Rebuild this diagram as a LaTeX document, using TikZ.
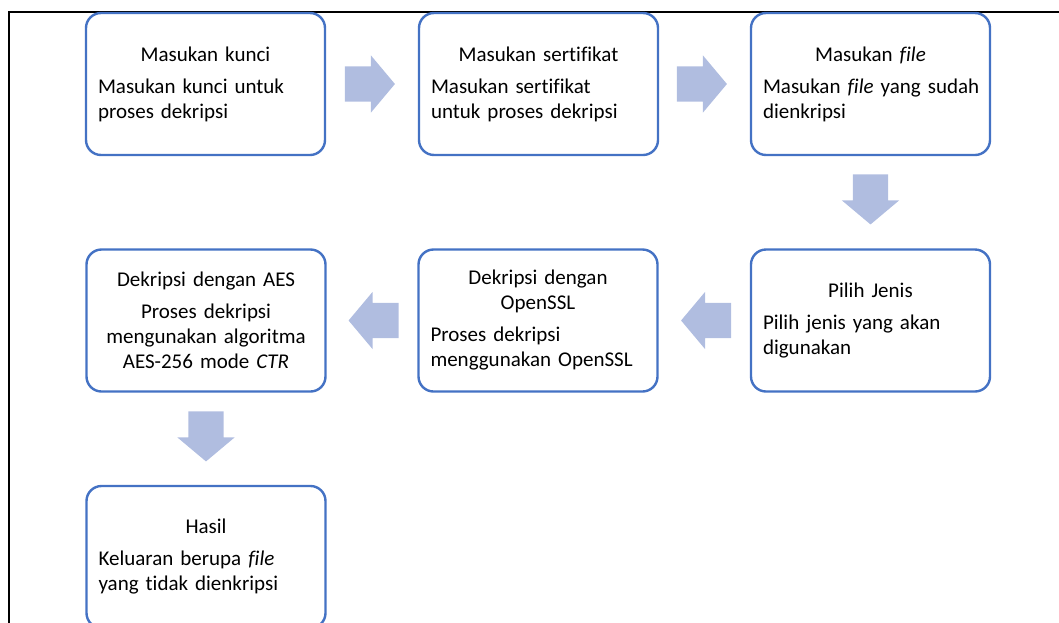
\documentclass[tikz,border=0pt]{standalone}
\usepackage{fontspec}
\setmainfont{Carlito}[Ligatures={NoCommon}]
\usetikzlibrary{positioning, shapes.arrows}
\definecolor{boxblue}{HTML}{4472C4}
\definecolor{arrowblue}{HTML}{B0BDE0}

\begin{document}
\begin{tikzpicture}[x=1pt, y=1pt, on grid,
    stepbox/.style={draw=boxblue, line width=2.4pt, rounded corners=15pt, fill=white,
      minimum height=142pt, text width=215pt, inner xsep=12pt, inner ysep=0pt,
      align=left, font=\fontsize{21pt}{25pt}\selectfont},
    flowarrow/.style={single arrow, fill=arrowblue, draw=none, inner xsep=0pt,
      inner ysep=17.5pt, minimum height=50pt, single arrow head extend=11pt,
      single arrow tip angle=100}]
      \useasboundingbox (0,0) rectangle (1059,-622);
      \clip (0,0) rectangle (1059,-622);
      \draw[line width=1.2pt] (9,-640) -- (9,-12) -- (1070,-12);

      \node[stepbox] (kunci) at (205.5,-84)
        {{\centering Masukan kunci\par}\vspace{7pt}Masukan kunci untuk\\proses dekripsi};
      \node[stepbox, right=333pt of kunci] (sertifikat)
        {{\centering Masukan sertifikat\par}\vspace{7pt}Masukan sertifikat\\untuk proses dekripsi};
      \node[stepbox, right=332pt of sertifikat] (file)
        {{\centering Masukan \textit{file}\par}\vspace{7pt}\mbox{Masukan \textit{file} yang sudah}\\dienkripsi};
      \node[stepbox, below=236.5pt of file] (jenis)
        {{\centering Pilih Jenis\par}\vspace{7pt}Pilih jenis yang akan\\digunakan};
      \node[stepbox, left=332.5pt of jenis] (openssl)
        {{\centering Dekripsi dengan\\OpenSSL\par}\vspace{7pt}Proses dekripsi\\menggunakan OpenSSL};
      \node[stepbox, left=332pt of openssl] (aes)
        {{\centering Dekripsi dengan AES\par}\vspace{7pt}{\centering Proses dekripsi\\mengunakan algoritma\\AES-256 mode \textit{CTR}\par}};
      \node[stepbox, below=236.5pt of aes] (hasil)
        {{\centering Hasil\par}\vspace{7pt}Keluaran berupa \textit{file}\\yang tidak dienkripsi};

      % panah antar langkah
      \node[flowarrow, right=157pt of kunci] (panah1) {};
      \node[flowarrow, right=156pt of sertifikat] (panah2) {};
      \node[flowarrow, below=108pt of file, rotate=-90] (panah3) {};
      \node[flowarrow, left=157pt of jenis, rotate=180] (panah4) {};
      \node[flowarrow, left=157pt of openssl, rotate=180] (panah5) {};
      \node[flowarrow, below=108.5pt of aes, rotate=-90] (panah6) {};
    \end{tikzpicture}
\end{document}
